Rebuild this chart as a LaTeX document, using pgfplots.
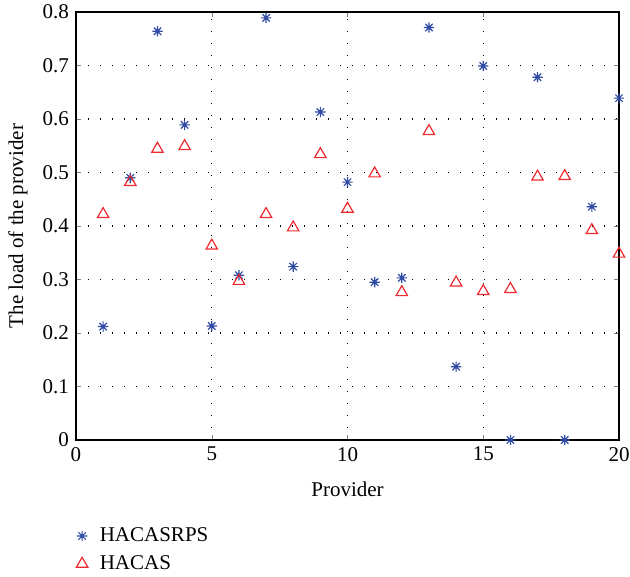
\documentclass[border=0pt]{standalone}
\usepackage{fontspec}
\setmainfont{Liberation Serif}
\usepackage{pgfplots}
\pgfplotsset{compat=1.18}
\definecolor{starblue}{HTML}{2F4BA3}
\definecolor{trired}{HTML}{EE2A2F}
% matlab-like asterisk: 8 rays
\pgfdeclareplotmark{mstar}{%
  \pgfpathmoveto{\pgfqpoint{-\pgfplotmarksize}{0pt}}\pgfpathlineto{\pgfqpoint{\pgfplotmarksize}{0pt}}%
  \pgfpathmoveto{\pgfqpoint{0pt}{-\pgfplotmarksize}}\pgfpathlineto{\pgfqpoint{0pt}{\pgfplotmarksize}}%
  \pgfpathmoveto{\pgfqpoint{-0.7071\pgfplotmarksize}{-0.7071\pgfplotmarksize}}\pgfpathlineto{\pgfqpoint{0.7071\pgfplotmarksize}{0.7071\pgfplotmarksize}}%
  \pgfpathmoveto{\pgfqpoint{-0.7071\pgfplotmarksize}{0.7071\pgfplotmarksize}}\pgfpathlineto{\pgfqpoint{0.7071\pgfplotmarksize}{-0.7071\pgfplotmarksize}}%
  \pgfusepathqstroke}
\begin{document}
\begin{tikzpicture}[font=\fontsize{10.5}{12.6}\selectfont]
\begin{axis}[
    name=ax,
    scale only axis,
    width=271.5pt, height=214pt,
    xmin=0, xmax=20, ymin=0, ymax=0.8,
    xtick={0,5,10,15,20},
    ytick={0,0.1,...,0.8},
    yticklabel style={/pgf/number format/fixed, /pgf/number format/precision=1},
    /pgf/number format/assume math mode=true,
    tick align=inside,
    major tick length=2.5pt,
    axis line style={line width=0.9pt},
    grid=major,
    major grid style={black, line width=0.6pt, dash pattern=on 0.6pt off 5.4pt},
    xlabel={Provider},
    ylabel={The load of the provider},
    xlabel style={at={(axis description cs:0.5,-0.1145)}, anchor=center},
    ylabel style={at={(axis description cs:-0.107,0.5)}, anchor=center},
    legend style={at={(axis description cs:0,-0.185)}, anchor=north west, draw=none, fill=none,
        inner xsep=0pt, row sep=1.5pt},
    legend cell align=left,
    clip=false,
]
\addplot[only marks, mark=mstar, mark size=2.6pt, draw=starblue, line width=0.6pt]
coordinates {
(1,0.212) (2,0.490) (3,0.764) (4,0.589) (5,0.213) (6,0.308) (7,0.789)
(8,0.324) (9,0.613) (10,0.482) (11,0.295) (12,0.303) (13,0.771) (14,0.137)
(15,0.699) (16,0) (17,0.678) (18,0) (19,0.436) (20,0.639)
};
\addlegendentry{\hspace{4pt}HACASRPS}
\addplot[only marks, mark=triangle, mark size=3.3pt, draw=trired, line width=0.6pt]
coordinates {
(1,0.422) (2,0.482) (3,0.544) (4,0.549) (5,0.363) (6,0.297) (7,0.422)
(8,0.397) (9,0.534) (10,0.432) (11,0.498) (12,0.276) (13,0.577) (14,0.294)
(15,0.278) (16,0.282) (17,0.492) (18,0.493) (19,0.392) (20,0.348)
};
\addlegendentry{\hspace{4pt}HACAS}
\end{axis}
\pgfresetboundingbox
\path ([xshift=-38pt,yshift=-68.5pt]ax.south west) rectangle ([xshift=5.5pt,yshift=6pt]ax.north east);
\end{tikzpicture}
\end{document}
